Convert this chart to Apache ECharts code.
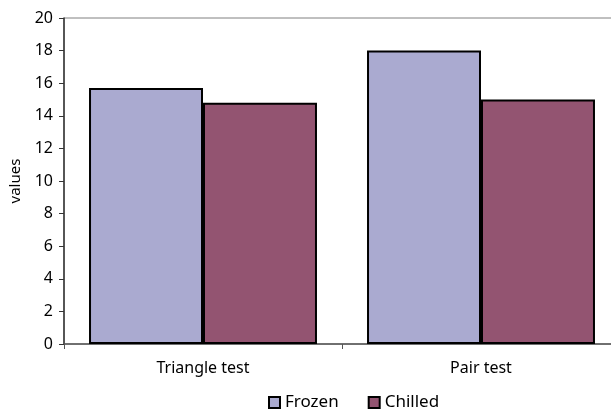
<!DOCTYPE html>
<html><head><meta charset="utf-8">
<script src="https://cdn.jsdelivr.net/npm/echarts@6/dist/echarts.min.js"></script>
<style>html,body{margin:0;padding:0;background:#fff}#c{width:611px;height:411px}</style>
</head><body><div id="c"></div>
<script>
const categories = ["Triangle test", "Pair test"];
const frozen = [15.7, 18.0];
const chilled = [14.8, 15.0];
const seriesNames = ["Frozen", "Chilled"];
const yTicks = {min: 0, max: 20, interval: 2};

const font = "Noto Sans";
const chart = echarts.init(document.getElementById('c'), null, {renderer: 'canvas'});
chart.setOption({
  animation: false,
  textStyle: {fontFamily: font},
  grid: {left: 64, top: 18, height: 326, width: 556, outerBoundsMode: 'none', show: true, borderColor: '#808080', borderWidth: 1, backgroundColor: 'transparent'},
  legend: {
    data: seriesNames, top: 389, left: 263, itemWidth: 11, itemHeight: 11, itemGap: 29,
    textStyle: {fontSize: 17, color: '#000', fontFamily: font},
    icon: 'rect'
  },
  xAxis: {
    type: 'category', data: categories,
    axisLine: {lineStyle: {color: '#555', width: 1.5}},
    axisTick: {show: true, length: 5, lineStyle: {color: '#555'}},
    axisLabel: {color: '#000', fontSize: 16, margin: 16, fontFamily: font}
  },
  yAxis: {
    type: 'value', min: yTicks.min, max: yTicks.max, interval: yTicks.interval,
    name: 'values', nameLocation: 'middle', nameGap: 41, nameRotate: 90,
    nameTextStyle: {fontSize: 15, color: '#000', fontFamily: font},
    axisLine: {show: true, lineStyle: {color: '#333', width: 1.5}},
    axisTick: {show: true, length: 5, lineStyle: {color: '#333'}},
    splitLine: {show: false},
    axisLabel: {color: '#000', fontSize: 16, margin: 11, fontFamily: font}
  },
  series: [
    {name: seriesNames[0], type: 'bar', data: frozen, barCategoryGap: '18%', barGap: '0%',
     itemStyle: {color: '#AAAAD0', borderColor: '#000', borderWidth: 2}},
    {name: seriesNames[1], type: 'bar', data: chilled, barCategoryGap: '18%', barGap: '0%',
     itemStyle: {color: '#935471', borderColor: '#000', borderWidth: 2}}
  ]
});
</script></body></html>
